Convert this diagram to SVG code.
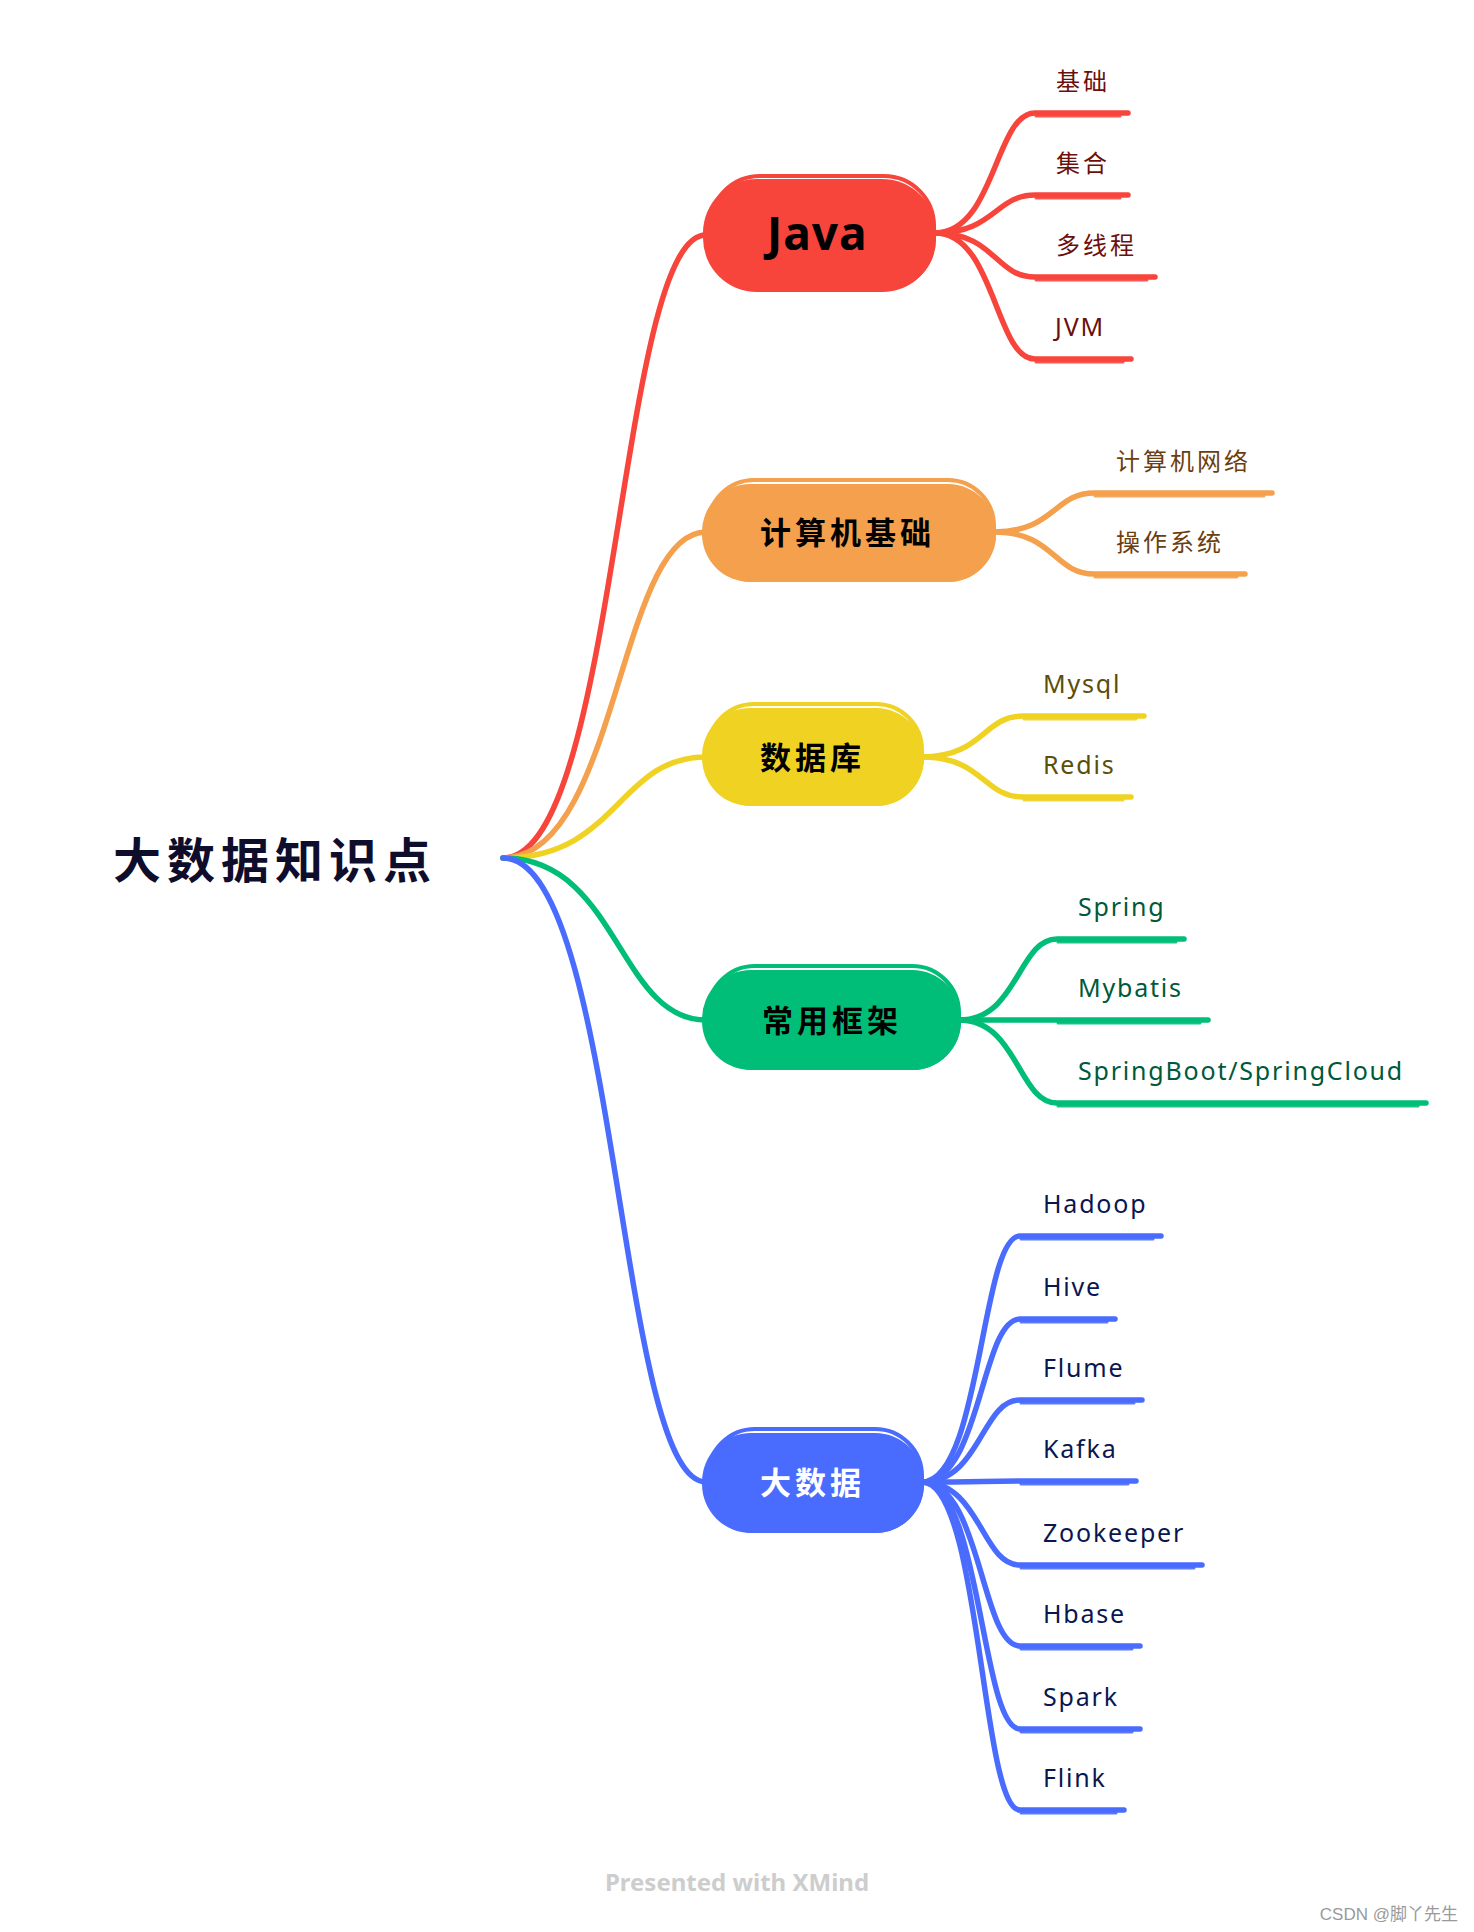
<svg xmlns="http://www.w3.org/2000/svg" width="1474" height="1932" viewBox="0 0 1474 1932">
<style>
.c{fill:none;stroke-width:5.5;stroke-linecap:round;stroke-linejoin:round}
.d{fill:none;stroke-width:3;stroke-linecap:round;opacity:.9}
.red{stroke:#F8453C}.org{stroke:#F4A04C}.yel{stroke:#F0D223}.grn{stroke:#00BD78}.blu{stroke:#4A6CFE}
.cjk{font-family:"Noto Sans CJK SC","Noto Sans",sans-serif}
.lat{font-family:"Noto Sans","Noto Sans CJK SC",sans-serif}
.leafc{font-size:24px;letter-spacing:3px}
.leafl{font-size:25px;letter-spacing:1.8px}
.nt{font-size:31px;font-weight:bold;letter-spacing:4px}
</style>
<rect width="1474" height="1932" fill="#FFFFFF"/>
<g id="connectors">
<path class="c red" d="M503 858 C618 858 618 235 706 235"/>
<path class="c org" d="M503 858 C618 858 618 532 706 532"/>
<path class="c yel" d="M503 858 C618 858 618 757 706 757"/>
<path class="c grn" d="M503 858 C618 858 618 1020 706 1020"/>
<path class="c blu" d="M503 858 C618 858 618 1482 706 1482"/>
<g class="red">
<path class="c" d="M935 233 C995 233 995 113 1035 113 L1128 113"/>
<path class="c" d="M935 233 C995 233 995 195 1035 195 L1128 195"/>
<path class="c" d="M935 233 C995 233 995 277 1035 277 L1155 277"/>
<path class="c" d="M935 233 C995 233 995 359 1035 359 L1131 359"/>
<path class="d" d="M1036 116 L1120 116 M1036 198 L1120 198 M1036 280 L1147 280 M1036 362 L1123 362"/>
</g>
<g class="org">
<path class="c" d="M994 532 C1054 532 1054 493 1094 493 L1272 493"/>
<path class="c" d="M994 532 C1054 532 1054 574 1094 574 L1245 574"/>
<path class="d" d="M1095 496 L1264 496 M1095 577 L1237 577"/>
</g>
<g class="yel">
<path class="c" d="M922 757 C983 757 983 716 1023 716 L1144 716"/>
<path class="c" d="M922 757 C983 757 983 797 1023 797 L1131 797"/>
<path class="d" d="M1024 719 L1136 719 M1024 800 L1123 800"/>
</g>
<g class="grn">
<path class="c" d="M959 1020 C1018 1020 1018 939 1057 939 L1184 939"/>
<path class="c" d="M959 1020 C1018 1020 1018 1020 1057 1020 L1208 1020"/>
<path class="c" d="M959 1020 C1018 1020 1018 1103 1057 1103 L1426 1103"/>
<path class="d" d="M1058 942 L1176 942 M1058 1023 L1200 1023 M1058 1106 L1418 1106"/>
</g>
<g class="blu">
<path class="c" d="M922 1482 C981 1482 981 1236 1020 1236 L1161 1236"/>
<path class="c" d="M922 1482 C981 1482 981 1319 1020 1319 L1115 1319"/>
<path class="c" d="M922 1482 C981 1482 981 1400 1020 1400 L1142 1400"/>
<path class="c" d="M922 1482 C981 1482 981 1481 1020 1481 L1136 1481"/>
<path class="c" d="M922 1482 C981 1482 981 1565 1020 1565 L1202 1565"/>
<path class="c" d="M922 1482 C981 1482 981 1646 1020 1646 L1140 1646"/>
<path class="c" d="M922 1482 C981 1482 981 1729 1020 1729 L1140 1729"/>
<path class="c" d="M922 1482 C981 1482 981 1810 1020 1810 L1124 1810"/>
<path class="d" d="M1021 1239 L1153 1239 M1021 1322 L1107 1322 M1021 1403 L1134 1403 M1021 1484 L1128 1484 M1021 1568 L1194 1568 M1021 1649 L1132 1649 M1021 1732 L1132 1732 M1021 1813 L1116 1813"/>
</g>
</g>
<g id="root">
<text class="cjk" x="113" y="878" font-size="48" font-weight="bold" letter-spacing="6" fill="#0E0E2C">大数据知识点</text>
</g>
<g id="node-java">
<rect x="703" y="179" width="233" height="113" rx="54" fill="#F8453C"/>
<rect x="710" y="176" width="224" height="113" rx="50" fill="none" stroke="#F8453C" stroke-width="4"/>
<text class="lat" x="767" y="250" font-size="46" font-weight="bold" letter-spacing="1" fill="#000">Java</text>
</g>
<g id="node-cs">
<rect x="702" y="484" width="294" height="98" rx="48" fill="#F4A04C"/>
<rect x="708" y="480" width="286" height="100" rx="46" fill="none" stroke="#F4A04C" stroke-width="4"/>
<text class="cjk nt" x="760" y="544" fill="#000">计算机基础</text>
</g>
<g id="node-db">
<rect x="702" y="708" width="222" height="98" rx="48" fill="#F0D223"/>
<rect x="708" y="704" width="214" height="100" rx="46" fill="none" stroke="#F0D223" stroke-width="4"/>
<text class="cjk nt" x="760" y="769" fill="#000">数据库</text>
</g>
<g id="node-fw">
<rect x="702" y="970" width="259" height="100" rx="49" fill="#00BD78"/>
<rect x="708" y="966" width="251" height="102" rx="47" fill="none" stroke="#00BD78" stroke-width="4"/>
<text class="cjk nt" x="762" y="1032" fill="#000">常用框架</text>
</g>
<g id="node-bd">
<rect x="702" y="1433" width="222" height="100" rx="49" fill="#4A6CFE"/>
<rect x="708" y="1429" width="214" height="102" rx="47" fill="none" stroke="#4A6CFE" stroke-width="4"/>
<text class="cjk nt" x="760" y="1494" fill="#FFFFFF">大数据</text>
</g>
<g id="leaves-java" fill="#6A0F0C">
<text class="cjk leafc" x="1056" y="90">基础</text>
<text class="cjk leafc" x="1056" y="172">集合</text>
<text class="cjk leafc" x="1056" y="254">多线程</text>
<text class="lat leafl" x="1055" y="336">JVM</text>
</g>
<g id="leaves-cs" fill="#6B3E10">
<text class="cjk leafc" x="1116" y="470">计算机网络</text>
<text class="cjk leafc" x="1116" y="551">操作系统</text>
</g>
<g id="leaves-db" fill="#5A4E0A">
<text class="lat leafl" x="1043" y="693">Mysql</text>
<text class="lat leafl" x="1043" y="774">Redis</text>
</g>
<g id="leaves-fw" fill="#00593A">
<text class="lat leafl" x="1078" y="916">Spring</text>
<text class="lat leafl" x="1078" y="997">Mybatis</text>
<text class="lat leafl" x="1078" y="1080">SpringBoot/SpringCloud</text>
</g>
<g id="leaves-bd" fill="#0A1650">
<text class="lat leafl" x="1043" y="1213">Hadoop</text>
<text class="lat leafl" x="1043" y="1296">Hive</text>
<text class="lat leafl" x="1043" y="1377">Flume</text>
<text class="lat leafl" x="1043" y="1458">Kafka</text>
<text class="lat leafl" x="1043" y="1542">Zookeeper</text>
<text class="lat leafl" x="1043" y="1623">Hbase</text>
<text class="lat leafl" x="1043" y="1706">Spark</text>
<text class="lat leafl" x="1043" y="1787">Flink</text>
</g>
<text x="737" y="1891" text-anchor="middle" font-family="Noto Sans, sans-serif" font-size="24" font-weight="bold" fill="#CDCDCD">Presented with XMind</text>
<text x="1458" y="1920" text-anchor="end" font-family="Liberation Sans, Noto Sans CJK SC, sans-serif" font-size="17" fill="#9A9A9A">CSDN @脚丫先生</text>
</svg>
